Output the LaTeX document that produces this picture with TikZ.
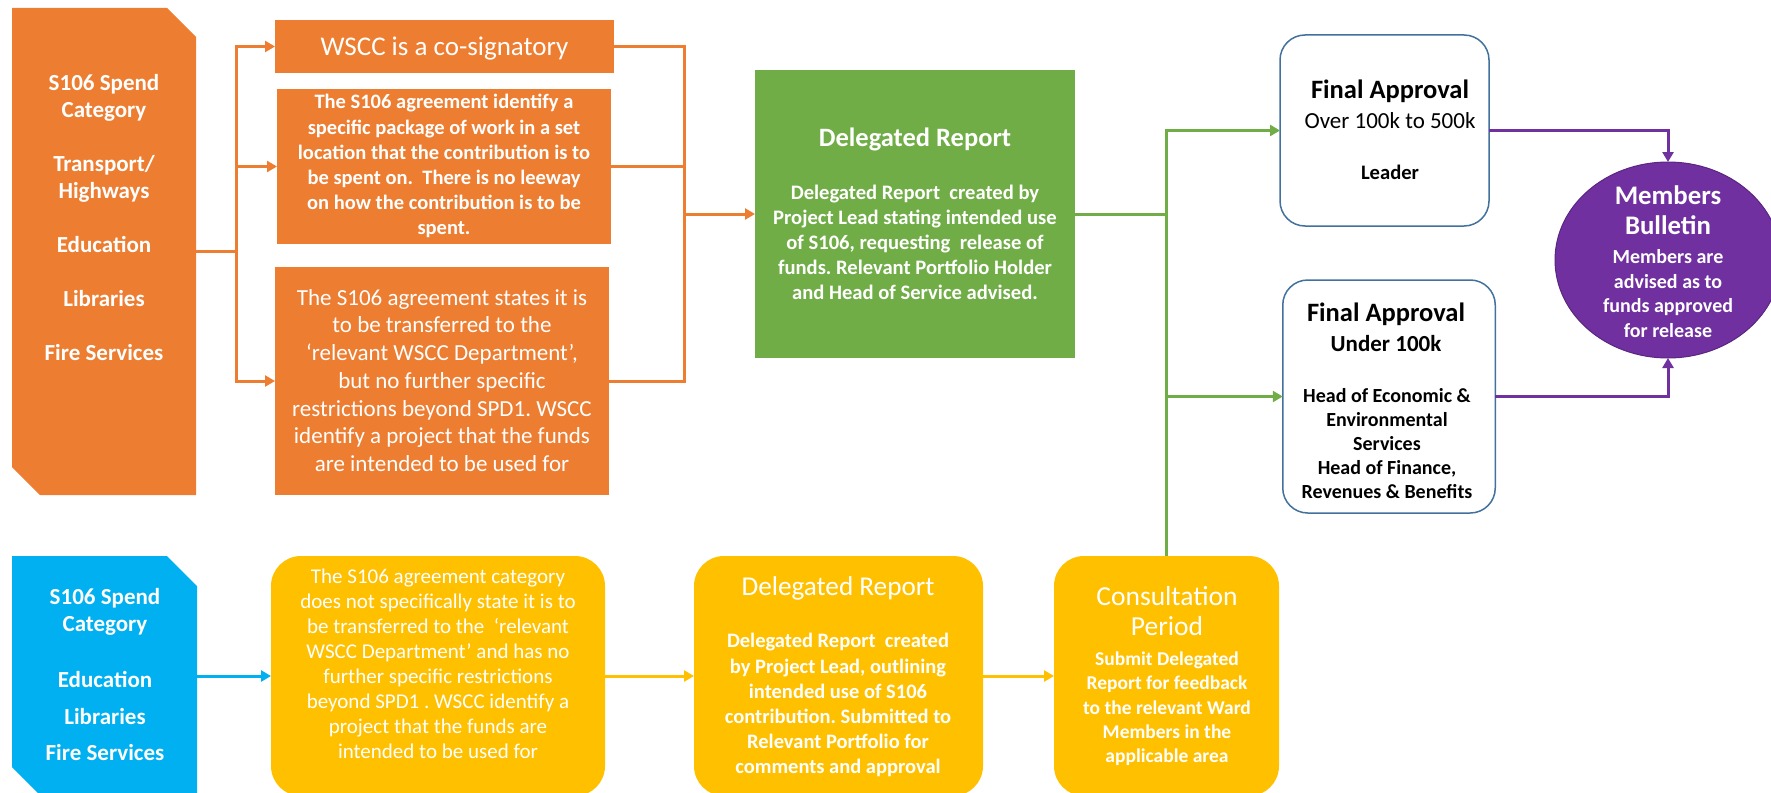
\documentclass[tikz,border=0pt]{standalone}
\usepackage{fontspec}
\setmainfont{Carlito}
\usetikzlibrary{arrows.meta,shapes.geometric}
\definecolor{cOrange}{HTML}{ED7D31}
\definecolor{cGreen}{HTML}{70AD47}
\definecolor{cBlue}{HTML}{00B0F0}
\definecolor{cYellow}{HTML}{FFC000}
\definecolor{cPurple}{HTML}{7030A0}
\definecolor{cBorder}{HTML}{41719C}
\newcommand\setfs[2]{\fontsize{#1}{#2}\selectfont}
\frenchspacing
\tikzset{
  shp/.style={inner sep=0pt, outer sep=0pt},
  txt/.style={inner sep=0pt, outer sep=0pt, align=center, text=white,
    execute at begin node=\strut, execute at end node=\strut},
  dtxt/.style={txt, text=black},
  conn/.style={line width=3pt},
  arr/.style={line width=3pt, -{Triangle[length=10pt,width=11pt]}},
  fabox/.style={shp, draw=cBorder, line width=1.5pt, fill=white, rounded corners=25pt},
  ybox/.style={shp, fill=cYellow, rounded corners=30pt, minimum height=240pt},
}
\begin{document}
\begin{tikzpicture}[x=1pt,y=-1pt]
\useasboundingbox (0,0) rectangle (1771,792);
\clip (0,0) rectangle (1771,792);

% ---------- shapes ----------
\node[shp, minimum width=184pt, minimum height=487pt] (L1) at (104,251.5) {};
\fill[cOrange] (L1.north west) -- ([xshift=-29pt]L1.north east) -- ([yshift=-29pt]L1.north east)
  -- (L1.south east) -- ([xshift=28pt]L1.south west) -- ([yshift=28pt]L1.south west) -- cycle;
\node[shp, fill=cOrange, minimum width=339pt, minimum height=53pt] (O1) at (444.5,46.5) {};
\node[shp, fill=cOrange, minimum width=334pt, minimum height=155pt] (O2) at (444,166.5) {};
\node[shp, fill=cOrange, minimum width=334pt, minimum height=228pt] (O3) at (442,381) {};
\node[shp, fill=cGreen, minimum width=319.5pt, minimum height=288pt] (G) at (914.75,214) {};
\node[fabox, minimum width=209pt, minimum height=191pt] (FA1) at (1384.5,130.5) {};
\node[fabox, minimum width=212.5pt, minimum height=233pt] (FA2) at (1389,396.5) {};
\node[shp, ellipse, fill=cPurple, draw=cPurple!80!black, line width=1pt,
  minimum width=226pt, minimum height=196pt] (MB) at (1668,260) {};

\node[shp, minimum width=185pt, minimum height=240pt] (B) at (104.5,676) {};
\fill[cBlue] (B.north west) -- ([xshift=-30pt]B.north east) -- ([yshift=-30pt]B.north east)
  -- (B.south east) -- ([xshift=29pt]B.south west) -- ([yshift=29pt]B.south west) -- cycle;
\node[ybox, minimum width=334pt] (Y1) at (438,676) {};
\node[ybox, minimum width=289pt] (Y2) at (838.5,676) {};
\node[ybox, minimum width=225pt] (C3) at (1166.5,676) {};

% ---------- connectors ----------
\coordinate (jL) at ([xshift=40pt]L1.east);
\draw[conn, cOrange] (L1.east) -- (jL);
\draw[arr, cOrange] (jL) |- (O1.west);
\draw[arr, cOrange] (jL) |- (O2.west);
\draw[arr, cOrange] (jL) |- (O3.west);

\coordinate (jR) at ([xshift=-71pt]G.west);
\draw[conn, cOrange] (O1.east) -| (jR);
\draw[conn, cOrange] (O2.east) -| (jR);
\draw[conn, cOrange] (O3.east) -| (jR);
\draw[arr, cOrange] (jR) -- (G.west);

\coordinate (jG) at (G.east -| C3.north);
\draw[conn, cGreen] (G.east) -- (jG);
\draw[arr, cGreen] (C3.north) |- (FA1.west);
\draw[arr, cGreen] (C3.north) |- (FA2.west);

\draw[arr, cPurple] (FA1.east) -| (MB.north);
\draw[arr, cPurple] (FA2.east) -| (MB.south);

\draw[arr, cBlue] (B.east) -- (Y1.west);
\draw[arr, cYellow] (Y1.east) -- (Y2.west);
\draw[arr, cYellow] (Y2.east) -- (C3.west);

% ---------- texts ----------
\begin{scope}[yshift=-2.5pt]
\node[txt, font=\setfs{23}{27}\bfseries] (L1t) at (104,219)
  {S106 Spend\\Category\\[27pt]Transport/\\Highways\\[27pt]Education\\[27pt]Libraries\\[27pt]Fire Services};
\node[txt, font=\setfs{27}{32}] (O1t) at (444.5,47) {WSCC is a co-signatory};
\node[txt, font=\setfs{20.5}{25.2}\bfseries] (O2t) at (444,166)
  {The S106 agreement identify a\\specific package of work in a set\\location that the contribution is to\\be spent on.\ \ There is no leeway\\on how the contribution is to be\\spent.};
\node[txt, font=\setfs{23}{27.7}] (O3t) at (442,382)
  {The S106 agreement states it is\\to be transferred to the\\‘relevant WSCC Department’,\\but no further specific\\restrictions beyond SPD1. WSCC\\identify a project that the funds\\are intended to be used for};

\node[txt, font=\setfs{26.5}{31}\bfseries] (Gt1) at (915,138) {Delegated Report};
\node[txt, font=\setfs{20.6}{24.9}\bfseries] (Gt2) at (915,243.5)
  {Delegated Report\ \ created by\\Project Lead stating intended use\\of S106, requesting\ \ release of\\funds. Relevant Portfolio Holder\\and Head of Service advised.};

\node[dtxt, font=\setfs{26.5}{31}\bfseries] (FA1a) at (1390,90) {Final Approval};
\node[dtxt, font=\setfs{23}{28}] (FA1b) at (1390,120) {Over 100k to 500k};
\node[dtxt, font=\setfs{20.6}{25}\bfseries] (FA1c) at (1390,172) {Leader};

\node[dtxt, font=\setfs{26.5}{31}\bfseries] (FA2a) at (1386,313) {Final Approval};
\node[dtxt, font=\setfs{23}{28}\bfseries] (FA2b) at (1386,343) {Under 100k};
\node[dtxt, font=\setfs{20}{24}\bfseries] (FA2c) at (1387,445)
  {Head of Economic \&\\Environmental\\Services\\Head of Finance,\\Revenues \& Benefits};

\node[txt, font=\setfs{26.8}{30}\bfseries] (MBa) at (1668,212) {Members\\Bulletin};
\node[txt, font=\setfs{20}{24.5}\bfseries] (MBb) at (1668,294.5)
  {Members are\\advised as to\\funds approved\\for release};

\node[txt, font=\setfs{23}{27}\bfseries] (Bt) at (105,676)
  {S106 Spend\\Category\\[29pt]Education\\[10pt]Libraries\\[9pt]Fire Services};

\node[txt, font=\setfs{21}{25}] (Y1t) at (438,664.5)
  {The S106 agreement category\\does not specifically state it is to\\be transferred to the\ \ ‘relevant\\WSCC Department’ and has no\\further specific restrictions\\beyond SPD1 . WSCC identify a\\project that the funds are\\intended to be used for};

\node[txt, font=\setfs{27.2}{32}] (Y2a) at (838,587) {Delegated Report};
\node[txt, font=\setfs{20.5}{25.2}\bfseries] (Y2b) at (838,705)
  {Delegated Report\ \ created\\by Project Lead, outlining\\intended use of S106\\contribution. Submitted to\\Relevant Portfolio for\\comments and approval};

\node[txt, font=\setfs{27.5}{30}] (C3a) at (1167,613) {Consultation\\Period};
\node[txt, font=\setfs{19.5}{24.3}\bfseries] (C3b) at (1167,708.5)
  {Submit Delegated\\Report for feedback\\to the relevant Ward\\Members in the\\applicable area};
\end{scope}
\end{tikzpicture}
\end{document}
